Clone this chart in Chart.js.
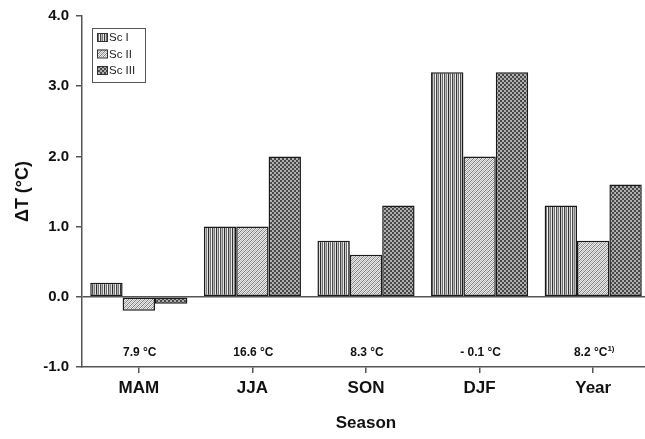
<!DOCTYPE html>
<html>
<head>
<meta charset="utf-8">
<script src="https://cdn.jsdelivr.net/npm/chart.js@4/dist/chart.umd.min.js"></script>
<style>
  html, body { margin: 0; padding: 0; background: #fff; overflow: hidden; }
  #wrap { width: 650px; height: 439px; }
</style>
</head>
<body>
<div id="wrap"><canvas id="c" width="650" height="439"></canvas></div>
<script>
// data
const seasons = ['MAM', 'JJA', 'SON', 'DJF', 'Year'];
const scI   = [0.2, 1.0, 0.8, 3.2, 1.3];
const scII  = [-0.2, 1.0, 0.6, 2.0, 0.8];
const scIII = [-0.1, 2.0, 1.3, 3.2, 1.6];
const meanTemps = ['7.9 °C', '16.6 °C', '8.3 °C', '- 0.1 °C', '8.2 °C'];
const tempNotes = ['', '', '', '', '1)'];
const seriesNames = ['Sc I', 'Sc II', 'Sc III'];

const FONT = '"Liberation Sans", Arial, sans-serif';

// little fill patterns, one per scenario
function makePattern(w, h, draw){
  const c = document.createElement('canvas');
  c.width = w; c.height = h;
  const g = c.getContext('2d');
  draw(g);
  return g.createPattern(c, 'repeat');
}

const stripes = makePattern(16, 4, g => {
  const cols = ['#2a2a2a', '#c8c8c8', '#6e6e6e', '#f0f0f0', '#444444', '#b4b4b4', '#7a7a7a', '#e6e6e6',
                '#333333', '#cfcfcf', '#6a6a6a', '#f4f4f4', '#4a4a4a', '#bcbcbc', '#808080', '#e0e0e0'];
  cols.forEach((col, i) => { g.fillStyle = col; g.fillRect(i, 0, 1, 4); });
});
const hatch = makePattern(4, 4, g => {
  g.fillStyle = '#ececec'; g.fillRect(0, 0, 4, 4);
  g.fillStyle = '#7a7a7a';
  for (let i = 0; i < 4; i++) g.fillRect(3 - i, i, 1, 1);
  g.fillStyle = '#b4b4b4';
  for (let i = 0; i < 4; i++) g.fillRect((5 - i) % 4, i, 1, 1);
});
const checker = makePattern(4, 4, g => {
  g.fillStyle = '#b0b0b0'; g.fillRect(0, 0, 4, 4);
  g.fillStyle = '#474747';
  g.fillRect(0, 0, 2, 2); g.fillRect(2, 2, 2, 2);
});
const fills = [stripes, hatch, checker];

// mean temperatures under each group + box legend in the top left corner
const extras = {
  id: 'extras',
  afterDatasetsDraw(chart){
    const { ctx, scales: { x, y } } = chart;
    ctx.save();
    ctx.fillStyle = '#111';
    ctx.textBaseline = 'middle';
    const ty = y.getPixelForValue(-0.8);
    seasons.forEach((s, i) => {
      const cx = x.getPixelForValue(i) + 1;
      ctx.font = 'bold 12px ' + FONT;
      const w1 = ctx.measureText(meanTemps[i]).width;
      ctx.font = 'bold 8px ' + FONT;
      const w2 = tempNotes[i] ? ctx.measureText(tempNotes[i]).width : 0;
      const x0 = cx - (w1 + w2) / 2;
      ctx.textAlign = 'left';
      ctx.font = 'bold 12px ' + FONT;
      ctx.fillText(meanTemps[i], x0, ty);
      if (tempNotes[i]) {
        ctx.font = 'bold 8px ' + FONT;
        ctx.fillText(tempNotes[i], x0 + w1, ty - 4);
      }
    });

    // legend
    const lx = 92, lyTop = 28, lw = 53, lh = 54;
    ctx.fillStyle = '#fff';
    ctx.fillRect(lx, lyTop, lw, lh);
    ctx.strokeStyle = '#555';
    ctx.lineWidth = 1;
    ctx.strokeRect(lx + 0.5, lyTop + 0.5, lw, lh);
    ctx.font = '11.5px ' + FONT;
    ctx.textAlign = 'left';
    seriesNames.forEach((name, i) => {
      const ry = 37 + i * 16.5;
      ctx.fillStyle = fills[i];
      ctx.fillRect(97, ry - 4, 10, 8);
      ctx.strokeStyle = '#333';
      ctx.strokeRect(97.5, ry - 3.5, 10, 8);
      ctx.fillStyle = '#222';
      ctx.fillText(name, 109, ry + 1);
    });
    ctx.restore();
  }
};

new Chart(document.getElementById('c'), {
  type: 'bar',
  data: {
    labels: seasons,
    datasets: [scI, scII, scIII].map((d, i) => ({
      label: seriesNames[i],
      data: d,
      backgroundColor: fills[i],
      borderColor: '#1a1a1a',
      borderWidth: 1.5,
      borderSkipped: false
    }))
  },
  options: {
    responsive: false,
    animation: false,
    devicePixelRatio: 1,
    layout: { padding: { top: 15, right: 0, left: 0, bottom: 0 } },
    datasets: { bar: { categoryPercentage: 0.855, barPercentage: 1 } },
    plugins: { legend: { display: false }, tooltip: { enabled: false } },
    scales: {
      x: {
        afterFit: s => { s.height = 72; },
        border: { display: true, color: '#555', width: 1.5 },
        grid: { offset: false, drawOnChartArea: false, tickLength: 6, color: '#555', lineWidth: 1.5 },
        ticks: { color: '#111', font: { family: FONT, size: 17, weight: 'bold' }, padding: 5 },
        title: { display: true, text: 'Season', color: '#111',
                 font: { family: FONT, size: 17, weight: 'bold' }, padding: { top: 4, bottom: 5 } }
      },
      y: {
        min: -1, max: 4,
        afterFit: s => { s.width = 82; },
        border: { display: true, color: '#555', width: 1.5 },
        grid: {
          drawOnChartArea: true, tickLength: 6, tickColor: '#555', tickWidth: 1.5,
          color: c => (c.tick && c.tick.value === 0 ? '#555' : 'rgba(0,0,0,0)'),
          lineWidth: 1.5
        },
        ticks: { stepSize: 1, color: '#111', padding: 7,
                 font: { family: FONT, size: 15, weight: 'bold' },
                 callback: v => v.toFixed(1) },
        title: { display: true, text: 'ΔT (°C)', color: '#111',
                 font: { family: FONT, size: 18, weight: 'bold' }, padding: { top: 12, bottom: 0 } }
      }
    }
  },
  plugins: [extras]
});
</script>
</body>
</html>
